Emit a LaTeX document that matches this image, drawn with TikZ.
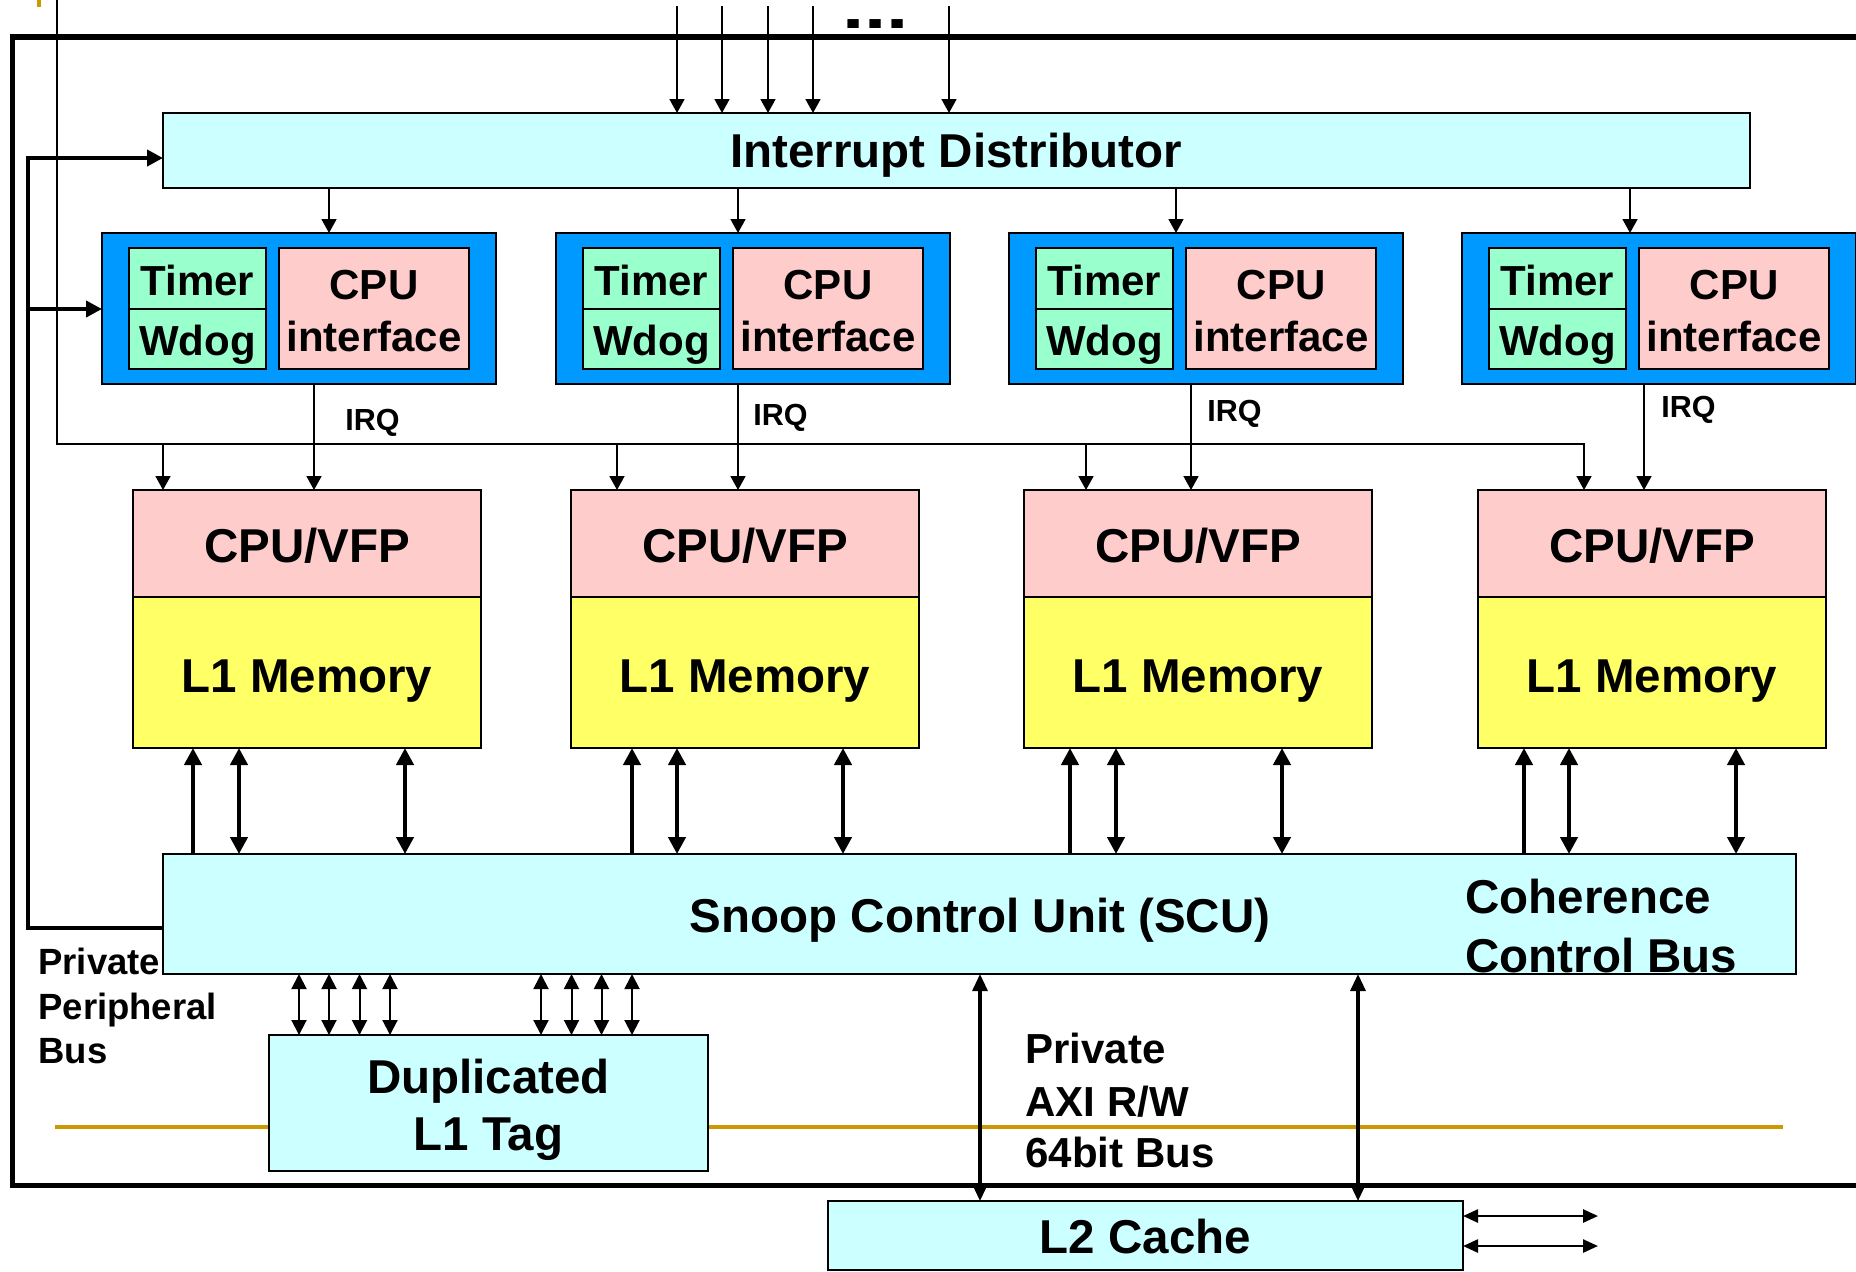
\documentclass[tikz,border=0pt]{standalone}
\usepackage{fontspec}
\setmainfont{Liberation Sans}
\usetikzlibrary{arrows.meta}

\definecolor{busfill}{HTML}{CCFFFF}
\definecolor{corebg}{HTML}{0099FF}
\definecolor{timerfill}{HTML}{99FFCC}
\definecolor{cpufill}{HTML}{FFCCCC}
\definecolor{memfill}{HTML}{FFFF66}
\definecolor{rulegold}{HTML}{CC9900}

\tikzset{
  blk/.style={draw=black, line width=1pt, inner sep=0pt, outer sep=0pt, anchor=north west},
  lblbig/.style={font=\bfseries\fontsize{23.75}{28}\selectfont, inner sep=0pt, anchor=base},
  lblmid/.style={font=\bfseries\fontsize{21}{25}\selectfont, inner sep=0pt, anchor=base},
  lblleft/.style={font=\bfseries\fontsize{21}{25}\selectfont, inner sep=0pt, anchor=base west},
  lblbigleft/.style={font=\bfseries\fontsize{23.75}{28}\selectfont, inner sep=0pt, anchor=base west},
  lblsmall/.style={font=\bfseries\fontsize{18.25}{22}\selectfont, inner sep=0pt, anchor=base west},
  lblirq/.style={font=\bfseries\fontsize{15.25}{18}\selectfont, inner sep=0pt, anchor=base west},
  thinarr/.style={line width=0.85pt, -{Triangle[length=7pt,width=7.5pt]}},
  thkup/.style={line width=2.4pt, -{Triangle[length=8.5pt,width=8.5pt]}},
  thkboth/.style={line width=2.4pt, {Triangle[length=8.5pt,width=8.5pt]}-{Triangle[length=8.5pt,width=8.5pt]}},
  tagboth/.style={line width=1pt, {Triangle[length=7.5pt,width=7.5pt]}-{Triangle[length=7.5pt,width=7.5pt]}},
  axiboth/.style={line width=1.6pt, {Triangle[length=8.5pt,width=7.5pt]}-{Triangle[length=8.5pt,width=7.5pt]}},
  extboth/.style={line width=1.3pt, {Triangle[length=7.5pt,width=6.5pt]}-{Triangle[length=7.5pt,width=6.5pt]}},
  ppbline/.style={line width=2.4pt, line join=miter},
}

\begin{document}
\begin{tikzpicture}[x=0.5pt, y=-0.5pt]
\useasboundingbox (0,0) rectangle (1856,1271);

% outer chip frame and gold rules
\draw[line width=2.75pt, line join=miter] (1856,37) -- (12.5,37) -- (12.5,1185.5) -- (1856,1185.5);
\draw[rulegold, line width=2pt] (39,0) -- (39,7);
\draw[rulegold, line width=1.8pt] (55,1127) -- (1783,1127);

% shared blocks
\node[blk, fill=busfill, minimum width=793.5pt, minimum height=37.5pt] (id) at (163,113) {};
\node[lblbig] (idt) at (956,167.5) {Interrupt Distributor};

\node[blk, fill=busfill, minimum width=816.5pt, minimum height=60pt] (scu) at (163,854) {};
\node[lblbig] (scut) at (980,932) {Snoop Control Unit (SCU)};
\node[lblbigleft] (coh1) at (1465,913) {Coherence};
\node[lblbigleft] (coh2) at (1465,972) {Control Bus};

\node[blk, fill=busfill, minimum width=219.5pt, minimum height=68pt] (tag) at (269,1035) {};
\node[lblbig] (tagt1) at (488.5,1093) {Duplicated};
\node[lblbig] (tagt2) at (488.5,1150) {L1 Tag};

\node[blk, fill=busfill, minimum width=317.5pt, minimum height=34.5pt] (l2) at (828,1201) {};
\node[lblbig] (l2t) at (1145.5,1253) {L2 Cache};

% interrupt inputs from the top
\foreach \xp [count=\k] in {677,722,768,813,949} {
  \coordinate (in\k) at (\xp,6);
  \draw[thinarr] (in\k) -- (id.north -| in\k);
}
\node[font=\bfseries\fontsize{30}{32}\selectfont, inner sep=0pt, anchor=base west]
  (dots) at (842,28) {\scalebox{1.33}[1]{...}};

% private peripheral bus from the SCU to the interrupt distributor and core timers
\coordinate (pp0) at (28,928);
\coordinate (pp1) at (28,158);
\coordinate (pp2) at (28,309);
\draw[ppbline, -{Triangle[length=8pt,width=8pt]}] (scu.west |- pp0) -- (pp0) -- (pp1) -- (id.west |- pp1);

% legacy interrupt line from the top
\coordinate (nirq) at (57,0);

% the four cores
\foreach \i/\xb/\xc/\xd/\xq/\xl/\yq/\xa/\xu/\xv/\xw in {
  1/102/133/329/314/345/430/163/193/239/405,
  2/556/571/738/738/753/425/617/632/677/843,
  3/1009/1024/1176/1191/1207/421/1086/1070/1116/1282,
  4/1462/1478/1630/1644/1661/417/1584/1524/1569/1736}
{
  \node[blk, fill=corebg, minimum width=197pt, minimum height=75.5pt] (cb\i) at (\xb,233) {};
  \node[blk, fill=timerfill, minimum width=68.5pt, minimum height=30.25pt] (tm\i) at (\xb+27,248) {};
  \node[blk, fill=timerfill, minimum width=68.5pt, minimum height=30.25pt] (wd\i) at (\xb+27,308.5) {};
  \node[blk, fill=cpufill, minimum width=95pt, minimum height=60.5pt] (ci\i) at (\xb+177,248) {};
  \node[lblmid] (tmt\i) at (\xb+95.5,295) {Timer};
  \node[lblmid] (wdt\i) at (\xb+95.5,355) {Wdog};
  \node[lblmid] (cit\i) at (\xb+272,299) {CPU};
  \node[lblmid] (cit\i b) at (\xb+272,351) {interface};

  \node[blk, fill=cpufill, minimum width=174pt, minimum height=53.5pt] (cpu\i) at (\xc,490) {};
  \node[blk, fill=memfill, minimum width=174pt, minimum height=75.5pt] (l1\i) at (\xc,597) {};
  \node[lblbig] (cput\i) at (\xc+174,562) {CPU/VFP};
  \node[lblbig] (l1t\i) at (\xc+174,692) {L1 Memory};

  \coordinate (d\i) at (\xd,0);
  \coordinate (q\i) at (\xq,0);
  \coordinate (a\i) at (\xa,444);
  \coordinate (u\i) at (\xu,0);
  \coordinate (v\i) at (\xv,0);
  \coordinate (w\i) at (\xw,0);

  \draw[thinarr] (id.south -| d\i) -- (cb\i.north -| d\i);
  \draw[thinarr] (cb\i.south -| q\i) -- (cpu\i.north -| q\i);
  \node[lblirq] (irq\i) at (\xl,\yq) {IRQ};

  \draw[thkup] (scu.north -| u\i) -- (l1\i.south -| u\i);
  \draw[thkboth] (scu.north -| v\i) -- (l1\i.south -| v\i);
  \draw[thkboth] (scu.north -| w\i) -- (l1\i.south -| w\i);
}

% interrupt line fanned out to every core
\draw[thinarr] (nirq) |- (a4) -- (cpu4.north -| a4);
\foreach \i in {1,2,3} {
  \draw[thinarr] (a\i) -- (cpu\i.north -| a\i);
}

% peripheral bus arrow into the first core's timer block
\draw[ppbline, -{Triangle[length=8pt,width=8pt]}] (pp2) -- (cb1.west |- pp2);

\node[lblsmall] (ppb1) at (38,974) {Private};
\node[lblsmall] (ppb2) at (38,1019) {Peripheral};
\node[lblsmall] (ppb3) at (38,1063) {Bus};

% SCU to duplicated tag RAM
\foreach \xp [count=\k] in {299,329,359.5,390,541,571.5,601.5,632} {
  \coordinate (t\k) at (\xp,0);
  \draw[tagboth] (scu.south -| t\k) -- (tag.north -| t\k);
}

% AXI bus to the L2 cache
\coordinate (x1) at (980,0);
\coordinate (x2) at (1358,0);
\draw[axiboth] (scu.south -| x1) -- (l2.north -| x1);
\draw[axiboth] (scu.south -| x2) -- (l2.north -| x2);
\node[lblleft] (axi1) at (1025,1063) {Private};
\node[lblleft] (axi2) at (1025,1116) {AXI R/W};
\node[lblleft] (axi3) at (1025,1167) {64bit Bus};

% L2 external ports
\coordinate (e1) at (1598,1216);
\coordinate (e2) at (1598,1246);
\draw[extboth] (l2.east |- e1) -- (e1);
\draw[extboth] (l2.east |- e2) -- (e2);
\end{tikzpicture}
\end{document}
